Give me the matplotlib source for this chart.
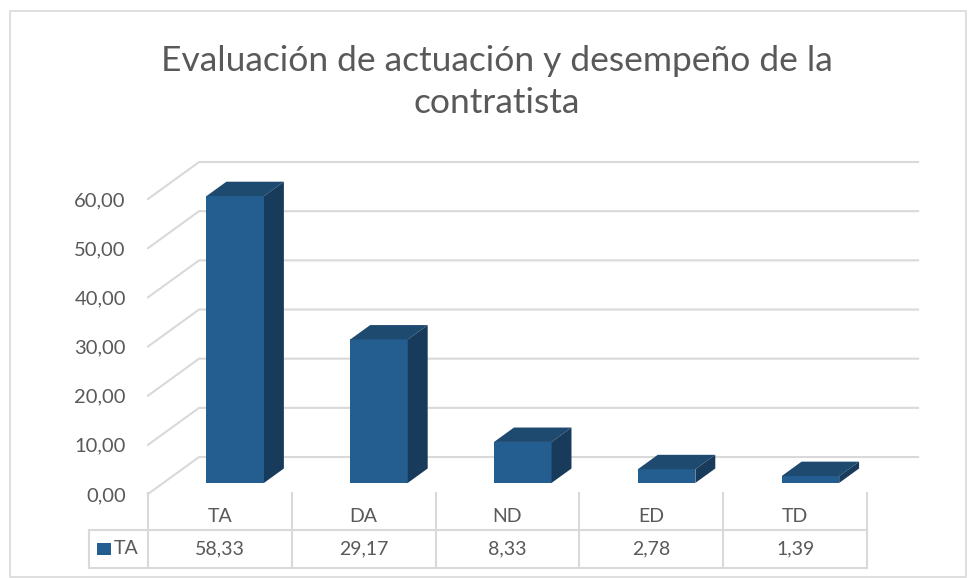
import matplotlib
matplotlib.use('Agg')
import matplotlib.pyplot as plt
from matplotlib.patches import Polygon, Rectangle
from matplotlib.lines import Line2D
import matplotlib.transforms as mtransforms

categorias = ["TA", "DA", "ND", "ED", "TD"]
valores = [58.33, 29.17, 8.33, 2.78, 1.39]
etiquetas_tabla = ["58,33", "29,17", "8,33", "2,78", "1,39"]
serie = "TA"
ticks_y = [0, 10, 20, 30, 40, 50, 60]
titulo = "Evaluación de actuación y desempeño de la\ncontratista"

W, H = 968, 578
FONT = "Lato"
GRIS_TXT = "#595959"
GRIS_LIN = "#D9D9D9"
C_FRENTE = "#245E91"
C_TECHO = "#1F4A70"
C_LADO = "#183B5C"

fig = plt.figure(figsize=(W / 100, H / 100), dpi=100)

def fx(px):
    return px / W

def fy(py):
    return 1 - py / H

# front plane of the 3d box
ax = fig.add_axes([fx(148), fy(494), fx(867) - fx(148), fy(199) - fy(494)])
ax.set_xlim(0, len(categorias))
ax.set_ylim(0, 60)
for s in ax.spines.values():
    s.set_visible(False)
ax.set_xticks([])
ax.set_yticks(ticks_y)
ax.set_yticklabels([f"{t:.2f}".replace(".", ",") for t in ticks_y],
                   fontsize=14.5, color=GRIS_TXT, family=FONT)
ax.tick_params(axis="y", length=0, pad=16)
ax.patch.set_visible(False)

# depth of the box in data units
DX, DY = 0.355, 7.52
f_ini, f_prof = 0.30, 0.39
ancho = 0.40

n = len(categorias)
for t in ticks_y:
    ax.plot([0, DX, n + DX], [t, t + DY, t + DY], color=GRIS_LIN, lw=1.5,
            clip_on=False, zorder=1)

for i, v in enumerate(valores):
    c = i + 0.5 + f_ini * DX
    b = f_ini * DY
    x0, x1 = c - ancho / 2, c + ancho / 2
    ddx, ddy = f_prof * DX, f_prof * DY
    ax.add_patch(Rectangle((x0, b), ancho, v, facecolor=C_FRENTE,
                           edgecolor="none", clip_on=False, zorder=3))
    ax.add_patch(Polygon([(x0, b + v), (x1, b + v), (x1 + ddx, b + v + ddy),
                          (x0 + ddx, b + v + ddy)], closed=True,
                         facecolor=C_TECHO, edgecolor="none", clip_on=False, zorder=3))
    ax.add_patch(Polygon([(x1, b), (x1, b + v), (x1 + ddx, b + v + ddy),
                          (x1 + ddx, b + ddy)], closed=True,
                         facecolor=C_LADO, edgecolor="none", clip_on=False, zorder=3))

# data table below the plot
tr = mtransforms.blended_transform_factory(ax.transData, fig.transFigure)
leg_x = (89 - 148) / (867 - 148) * n
for k in range(n + 1):
    ax.add_line(Line2D([k, k], [fy(493), fy(568)], transform=tr, color=GRIS_LIN,
                       lw=1.5, clip_on=False))
ax.add_line(Line2D([leg_x, leg_x], [fy(530), fy(568)], transform=tr, color=GRIS_LIN,
                   lw=1.5, clip_on=False))
for yy in (530, 568):
    ax.add_line(Line2D([leg_x, n], [fy(yy), fy(yy)], transform=tr, color=GRIS_LIN,
                       lw=1.5, clip_on=False))

for i, cat in enumerate(categorias):
    ax.text(i + 0.5, fy(517), cat, transform=tr, ha="center", va="center",
            fontsize=14, color=GRIS_TXT, family=FONT)
    ax.text(i + 0.5, fy(549), etiquetas_tabla[i], transform=tr, ha="center",
            va="center", fontsize=14, color=GRIS_TXT, family=FONT)

fig.patches.append(Rectangle((fx(97), fy(555)), fx(14), fy(543) - fy(555),
                             transform=fig.transFigure, facecolor=C_FRENTE,
                             edgecolor="none"))
fig.text(fx(114), fy(549), serie, ha="left", va="center", fontsize=14,
         color=GRIS_TXT, family=FONT)

fig.text(fx(497), fy(82), titulo, ha="center", va="center", fontsize=25.5,
         color=GRIS_TXT, family=FONT, linespacing=1.38)

# chart border
fig.patches.append(Rectangle((fx(10), fy(577)), fx(956), fy(11) - fy(577),
                             transform=fig.transFigure, facecolor="none",
                             edgecolor=GRIS_LIN, lw=1.2))

fig.savefig("out.png", dpi=100)
